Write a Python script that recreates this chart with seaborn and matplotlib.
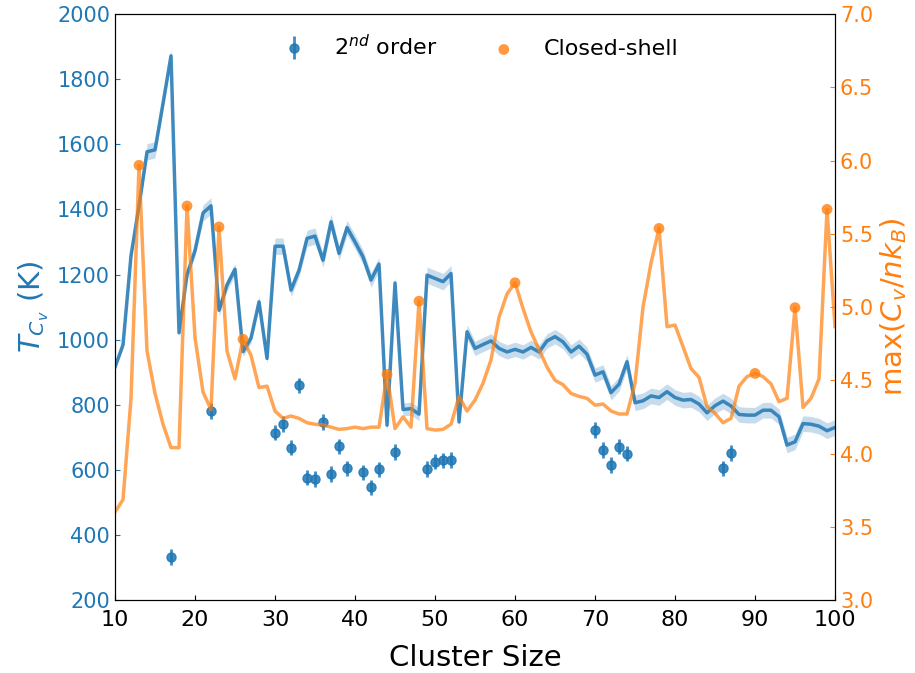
import numpy as np
import pandas as pd
import matplotlib
matplotlib.use("Agg")
import matplotlib.pyplot as plt
import seaborn as sns

# -----------------------------------
# Data
# -----------------------------------
cluster_size = list(range(10, 101))

# T_Cv (K) for every cluster size, 10 .. 100
tc = [
    916, 984, 1258, 1411, 1577, 1583, 1726, 1872, 1021, 1200,
    1274, 1389, 1411, 1090, 1168, 1216, 963, 1005, 1116, 942,
    1287, 1287, 1152, 1213, 1311, 1318, 1244, 1362, 1265, 1344,
    1300, 1254, 1183, 1232, 737, 1174, 785, 788, 771, 1198,
    1188, 1178, 1203, 747, 1024, 973, 985, 996, 973, 962,
    970, 962, 976, 962, 996, 1009, 993, 962, 980, 955,
    891, 901, 837, 863, 932, 806, 812, 827, 822, 840,
    822, 814, 816, 802, 775, 797, 811, 796, 770, 768,
    768, 783, 783, 763, 676, 686, 742, 740, 734, 720,
    730,
]

# half width of the shaded band (K)
tc_err = [
    10, 10, 12, 15, 25, 25, 20, 20, 15, 15,
    18, 25, 25, 18, 18, 18, 15, 15, 18, 15,
    25, 25, 20, 20, 25, 25, 22, 25, 22, 22,
    22, 22, 22, 20, 20, 20, 20, 20, 20, 25,
    25, 25, 25, 20, 22, 22, 22, 22, 22, 22,
    22, 22, 22, 22, 22, 22, 22, 22, 22, 22,
    22, 22, 22, 22, 22, 24, 24, 24, 24, 24,
    24, 24, 24, 24, 24, 24, 24, 24, 24, 24,
    24, 24, 24, 24, 24, 24, 24, 24, 24, 24,
    24,
]

# max(C_v / n k_B) for every cluster size, 10 .. 100
cv_max = [
    3.60, 3.685, 4.376, 5.968, 4.70, 4.41, 4.20, 4.04, 4.04, 5.69,
    4.79, 4.42, 4.30, 5.547, 4.70, 4.51, 4.78, 4.67, 4.45, 4.46,
    4.29, 4.24, 4.256, 4.24, 4.21, 4.20, 4.195, 4.18, 4.165, 4.17,
    4.18, 4.17, 4.18, 4.18, 4.54, 4.17, 4.25, 4.18, 5.04, 4.17,
    4.16, 4.165, 4.20, 4.39, 4.29, 4.365, 4.48, 4.64, 4.93, 5.09,
    5.166, 4.99, 4.83, 4.71, 4.59, 4.50, 4.47, 4.41, 4.39, 4.377,
    4.33, 4.338, 4.29, 4.27, 4.27, 4.479, 5.00, 5.30, 5.537, 4.866,
    4.877, 4.73, 4.58, 4.52, 4.32, 4.275, 4.21, 4.24, 4.46, 4.525,
    4.547, 4.525, 4.475, 4.354, 4.377, 4.996, 4.315, 4.377, 4.51, 5.667,
    4.866,
]

# closed-shell sizes
shell_size = [13, 19, 23, 26, 44, 48, 60, 78, 90, 95, 99]
shell_cv = [5.968, 5.69, 5.547, 4.78, 4.54, 5.04, 5.166, 5.537, 4.547, 4.996, 5.667]

# 2nd order transitions
order2_size = [17, 22, 30, 31, 32, 33, 34, 35, 36, 37, 38, 39, 41, 42,
               43, 45, 49, 50, 51, 52, 70, 71, 72, 73, 74, 86, 87]
order2_tc = [333, 780, 714, 740, 668, 859, 576, 571, 747, 587, 672, 604, 592, 546,
             601, 654, 603, 625, 629, 630, 722, 661, 615, 671, 650, 604, 651]
order2_err = [24] * len(order2_size)

df = pd.DataFrame({
    "size": cluster_size,
    "tc": tc,
    "err": tc_err,
    "cv": cv_max,
})

blue = "#1f77b4"
orange = "#ff7f0e"

# -----------------------------------
# Plot
# -----------------------------------
fig, ax = plt.subplots(figsize=(9.15, 6.73), dpi=100)
fig.subplots_adjust(left=0.1257, right=0.9126, bottom=0.1085, top=0.979)

ax.fill_between(
    df["size"],
    df["tc"] - df["err"],
    df["tc"] + df["err"],
    color=blue,
    alpha=0.25,
    lw=0
)

sns.lineplot(
    data=df,
    x="size",
    y="tc",
    ax=ax,
    color=blue,
    linewidth=2.5,
    alpha=0.85,
    legend=False
)

ax.errorbar(
    order2_size,
    order2_tc,
    yerr=order2_err,
    fmt="o",
    color=blue,
    ms=6.5,
    elinewidth=2,
    alpha=0.85,
    label=r"$2^{nd}$ order"
)

ax2 = ax.twinx()

sns.lineplot(
    data=df,
    x="size",
    y="cv",
    ax=ax2,
    color=orange,
    linewidth=2.5,
    alpha=0.7,
    legend=False
)

sns.scatterplot(
    x=shell_size,
    y=shell_cv,
    ax=ax2,
    color=orange,
    s=60,
    alpha=0.8,
    edgecolor="none",
    label="Closed-shell"
)

# axes
ax.set_xlim(10, 100)
ax.set_ylim(200, 2000)
ax.set_yticks(range(200, 2001, 200))
ax2.set_ylim(3.0, 7.0)
ax2.set_yticks(np.arange(3.0, 7.01, 0.5))

ax.set_xlabel("Cluster Size", fontsize=21, labelpad=10)
ax.set_ylabel(r"$T_{C_v}$ (K)", fontsize=21, color=blue)
ax2.set_ylabel(r"max($C_v/nk_B$)", fontsize=21, color=orange)

ax.tick_params(axis="x", direction="in", labelsize=16, pad=7)
ax.tick_params(axis="y", direction="in", colors=blue, labelsize=15)
ax2.tick_params(axis="y", direction="in", colors=orange, labelsize=15)

# legend
h1, l1 = ax.get_legend_handles_labels()
h2, l2 = ax2.get_legend_handles_labels()
if ax2.get_legend() is not None:
    ax2.get_legend().remove()

ax2.legend(
    h1 + h2,
    l1 + l2,
    loc="upper center",
    ncol=2,
    frameon=False,
    fontsize=16,
    columnspacing=2.0
)

plt.savefig("out.png", dpi=100)
